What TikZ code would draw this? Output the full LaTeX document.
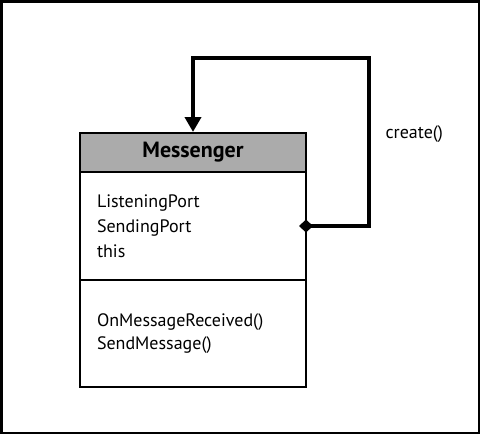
\documentclass[tikz,border=0pt]{standalone}
\usepackage{fontspec}
\setmainfont{PT Sans}
\usetikzlibrary{positioning,arrows.meta,calc}
\tikzset{
  head/.style={rectangle, minimum width=226pt, minimum height=39pt, text centered, draw=black, line width=2.5pt, outer sep=0pt, fill=black!33, font=\fontsize{22}{26}\selectfont\bfseries},
  part/.style={rectangle, minimum width=226pt, text width=192pt, inner xsep=17pt, align=left, draw=black, line width=2.5pt, outer sep=0pt, font=\fontsize{18}{25}\selectfont},
  conn/.style={line width=4.5pt, {Diamond[length=14pt,width=13pt]}-{Triangle[length=15pt,width=16pt]}, shorten <=-7pt, shorten >=1pt},
  lbl/.style={font=\fontsize{18}{22}\selectfont},
  node distance=0pt
}
\begin{document}
\begin{tikzpicture}[x=1pt,y=-1pt]
	\useasboundingbox (0,0) rectangle (480,434);
	\draw[line width=2.5pt] (1.25,1.25) rectangle (478.75,432.75);
	%
	\node[head] (msg) at (193,152.5) {Messenger};
	\node[part, minimum height=108pt, below=of msg] (attr) {ListeningPort\\SendingPort\\this};
	\node[part, minimum height=107pt, below=of attr, font=\fontsize{18}{23}\selectfont] (meth) {OnMessageReceived()\\SendMessage()};
	%
	\coordinate (loop) at (369,58);
	\draw[conn] (attr.east) -| (loop) -| (msg.north);
	\node[lbl, anchor=base west] (create) at (382,138) {create()};
\end{tikzpicture}
\end{document}
